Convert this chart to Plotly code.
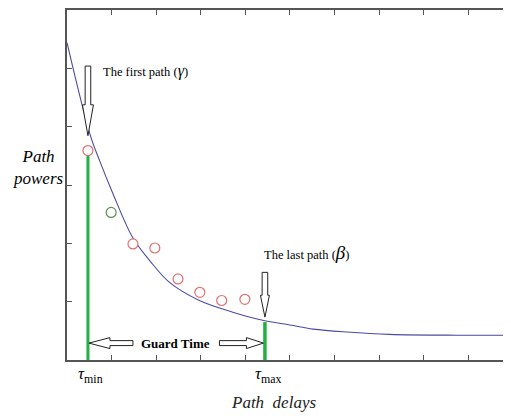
import plotly.graph_objects as go

# ---- data (arbitrary units) ----
curve_x = [0.0, 0.52, 0.74, 1.01, 1.48, 1.86, 2.30, 2.97, 3.72, 4.39, 5.00, 5.52, 6.28, 7.24, 8.74, 10.0]
curve_y = [5.44, 3.86, 3.40, 2.89, 2.09, 1.70, 1.33, 1.02, 0.82, 0.68, 0.60, 0.53, 0.48, 0.44, 0.425, 0.425]

path_x = [0.47, 0.99, 1.48, 1.97, 2.49, 2.98, 3.47, 3.99]
path_y = [3.59, 2.53, 1.99, 1.92, 1.39, 1.16, 1.02, 1.04]
path_colors = ["#e07070", "#5a9050", "#e07070", "#e07070", "#e07070", "#e07070", "#e07070", "#e07070"]

tau_min = 0.47
tau_max = 4.44
tau_max_y = 0.65

x_range = [0, 9.96]
y_range = [0, 6]
x_ticks = list(range(0, 11))
y_ticks = list(range(0, 7))

serif = "Liberation Serif, Times New Roman, serif"
axis_col = "#555555"

# page has an 8px body margin: figure is sized/positioned to compensate
PLOT_W = 444.0
PLOT_H = 352.0

fig = go.Figure()

# green guard lines
fig.add_trace(go.Scatter(x=[tau_min, tau_min], y=[0, path_y[0]], mode="lines",
                         line=dict(color="#22b040", width=3), showlegend=False, hoverinfo="skip"))
fig.add_trace(go.Scatter(x=[tau_max, tau_max], y=[0, tau_max_y], mode="lines",
                         line=dict(color="#22b040", width=3.5), showlegend=False, hoverinfo="skip"))

# decay curve
fig.add_trace(go.Scatter(x=curve_x, y=curve_y, mode="lines",
                         line=dict(color="#4a4aa8", width=1.1, shape="spline", smoothing=1.0),
                         showlegend=False, hoverinfo="skip"))

# path points
fig.add_trace(go.Scatter(x=path_x, y=path_y, mode="markers",
                         marker=dict(size=10, color="white", symbol="circle",
                                     line=dict(color=path_colors, width=1.2)),
                         showlegend=False, hoverinfo="skip"))

# ---- hollow block arrows (relative to data anchors) ----
px_x = (x_range[1] - x_range[0]) / PLOT_W
px_y = (y_range[1] - y_range[0]) / PLOT_H


def down_arrow(xc, y_tip, shaft_len, head_len, sw, hw):
    y_h = y_tip + head_len * px_y
    y_top = y_h + shaft_len * px_y
    pts = [(xc - sw * px_x, y_top), (xc + sw * px_x, y_top), (xc + sw * px_x, y_h),
           (xc + hw * px_x, y_h), (xc, y_tip), (xc - hw * px_x, y_h), (xc - sw * px_x, y_h)]
    return "M " + " L ".join(f"{a},{b}" for a, b in pts) + " Z"


def h_arrow(x_tip, yc, direction, shaft_len, head_len, sw, hw):
    d = direction
    x_h = x_tip + d * head_len * px_x
    x_t = x_h + d * shaft_len * px_x
    pts = [(x_t, yc + sw * px_y), (x_h, yc + sw * px_y), (x_h, yc + hw * px_y), (x_tip, yc),
           (x_h, yc - hw * px_y), (x_h, yc - sw * px_y), (x_t, yc - sw * px_y)]
    return "M " + " L ".join(f"{a},{b}" for a, b in pts) + " Z"


arrow_style = dict(type="path", xref="x", yref="y", line=dict(color="#222222", width=1),
                   fillcolor="white", layer="above")
first_tip_y = path_y[0] + 15 * px_y
fig.add_shape(path=down_arrow(tau_min, first_tip_y, 39, 31, 2.8, 5.5), **arrow_style)
fig.add_shape(path=down_arrow(tau_max, tau_max_y + 5 * px_y, 23, 22, 2.8, 4.5), **arrow_style)
guard_y = 17 * px_y
fig.add_shape(path=h_arrow(tau_min + 1 * px_x, guard_y, 1, 23, 21, 2.5, 5.5), **arrow_style)
fig.add_shape(path=h_arrow(tau_max - 1.5 * px_x, guard_y, -1, 27, 17, 2.5, 5.5), **arrow_style)

# ---- texts ----
fig.add_annotation(x=tau_min + 13 * px_x, y=path_y[0] + 80 * px_y, xref="x", yref="y",
                   text="The first path (<span style='font-size:16px'><i>γ</i></span>)",
                   showarrow=False, xanchor="left", yanchor="middle",
                   font=dict(family=serif, size=12.5, color="black"))
fig.add_annotation(x=tau_max - 3 * px_x, y=tau_max_y + 70 * px_y, xref="x", yref="y",
                   text="The last path (<span style='font-size:19px'><i>β</i></span>)",
                   showarrow=False, xanchor="left", yanchor="middle",
                   font=dict(family=serif, size=12.5, color="black"))
fig.add_annotation(x=(tau_min + tau_max) / 2 - 1 * px_x, y=guard_y, xref="x", yref="y",
                   text="<b>Guard Time</b>", showarrow=False, xanchor="center", yanchor="middle",
                   font=dict(family=serif, size=13, color="black"))

for xv, lab in [(tau_min, "min"), (tau_max, "max")]:
    fig.add_annotation(x=xv - 12 * px_x, y=-0.005, xref="x", yref="paper",
                       text=f"<i>τ</i><sub>{lab}</sub>", showarrow=False,
                       xanchor="left", yanchor="top",
                       font=dict(family=serif, size=17, color="black"))

fig.add_annotation(x=4.64, y=-43 / PLOT_H, xref="x", yref="paper", text="<i>Path  delays</i>",
                   showarrow=False, xanchor="center", yanchor="middle",
                   font=dict(family=serif, size=17, color="#222222"))
fig.add_annotation(x=-29 / PLOT_W, y=3.30, xref="paper", yref="y", text="<i>Path<br>powers</i>",
                   showarrow=False, xanchor="center", yanchor="middle", align="center",
                   font=dict(family=serif, size=17, color="black"))

fig.update_layout(
    width=503, height=408,
    margin=dict(l=59, r=0, t=0, b=56),
    paper_bgcolor="white", plot_bgcolor="white",
    showlegend=False,
    xaxis=dict(range=x_range, tickvals=x_ticks, showticklabels=False, ticks="inside", ticklen=5,
               tickcolor=axis_col, showline=True, linecolor=axis_col, linewidth=1.5,
               mirror="ticks", showgrid=False, zeroline=False, fixedrange=True),
    yaxis=dict(range=y_range, tickvals=y_ticks, showticklabels=False, ticks="inside", ticklen=5,
               tickcolor=axis_col, showline=True, linecolor=axis_col, linewidth=1.5,
               mirror=False, showgrid=False, zeroline=False, fixedrange=True),
    yaxis2=dict(range=y_range, tickvals=y_ticks, showticklabels=False, ticks="inside", ticklen=4,
                tickcolor=axis_col, showline=False, overlaying="y", side="right",
                showgrid=False, zeroline=False, fixedrange=True),
)
fig.add_trace(go.Scatter(x=[None], y=[None], yaxis="y2", showlegend=False, hoverinfo="skip"))

fig.write_html("out.html")
